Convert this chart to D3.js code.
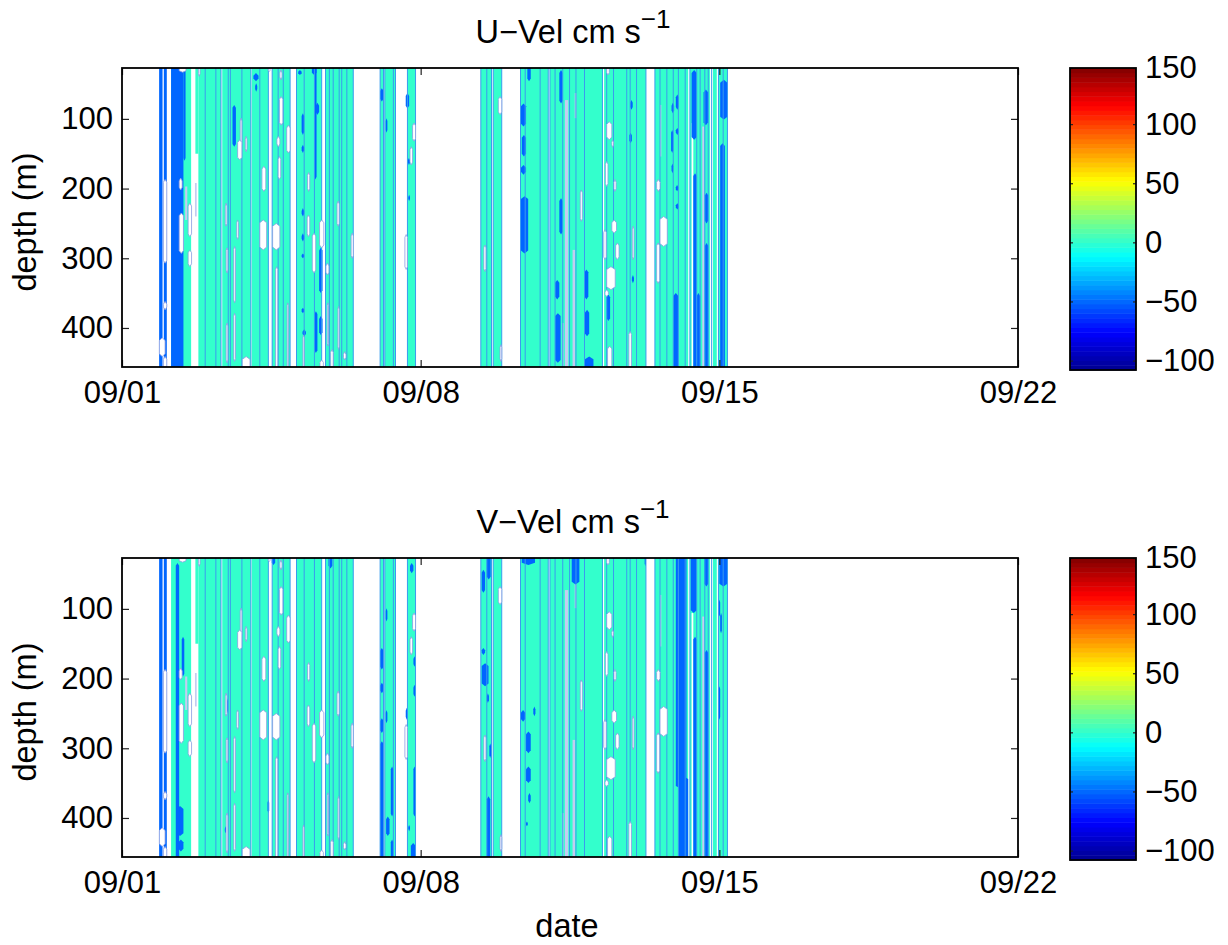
<!DOCTYPE html>
<html><head><meta charset="utf-8">
<script src="https://cdn.jsdelivr.net/npm/d3@7"></script>
<style>html,body{margin:0;padding:0;background:#fff}svg{display:block}text{font-family:"Liberation Sans",Arial,sans-serif;fill:#000}</style>
</head><body><svg id="c" width="1228" height="945"></svg>
<script>
// time in days since 09/01; depth in metres
const xTickDays=[0,7,14,21];
const xTickLabels=["09/01","09/08","09/15","09/22"];
const depthTicks=[100,200,300,400];
const cbarTicks=[150,100,50,0,-50,-100];
const titles=["U\u2212Vel cm s","V\u2212Vel cm s"];
const fillBands=[[1.15,1.62],[1.79,2.32],[2.35,3.02],[3.04,3.43],[3.52,3.94],[4.09,4.68],[4.77,5.42],[6.05,6.13],[6.16,6.41],[6.69,6.88],[8.41,8.66],[8.70,8.90],[9.34,9.99],[10.03,11.26],[11.30,12.28],[12.49,14.19]];
const partialBands=[[1.72,1.79,27,150]];
const blueBands=[[0.87,0.95],[0.98,1.05]];
const contourLines=[1.95,2.20,2.32,2.49,2.54,2.81,3.02,3.23,3.43,3.52,3.66,3.78,3.94,4.09,4.27,4.51,4.68,4.77,4.86,4.95,5.09,5.15,5.27,5.42,6.05,6.13,6.16,6.36,6.41,6.69,6.88,8.41,8.55,8.66,8.70,8.90,9.34,9.45,9.80,9.99,10.03,10.15,10.33,10.49,10.64,10.84,11.26,11.36,11.52,11.83,11.91,12.06,12.28,12.49,12.61,12.77,12.92,13.04,13.20,13.31,13.47,13.55,13.66,13.74,13.82,13.98,14.09,14.19];
const strips=[[10.38,10.46,73,456],[10.56,10.62,288,456],[10.61,10.65,63,99],[12.61,12.64,80,154],[13.60,13.65,111,456],[10.31,10.35,393,456],[1.48,1.53,197,245],[1.71,1.75,192,240]];
const gapStrips=[[13.35,13.39,106,456],[13.78,13.85,27,456],[13.94,13.98,27,456],[13.27,13.31,27,456]];
const holes=[[.97,1.05,187,307],[.97,1.05,362,374],[.875,1.01,414,441],[.97,1.05,441,456],[1.34,1.41,185,202],[1.34,1.44,235,293],[1.34,1.5,27,33],[1.55,1.63,221,269],[1.55,1.63,288,312],[2.69,2.73,245,273],[2.62,2.66,283,364],[2.62,2.66,379,448],[2.42,2.46,221,254],[2.44,2.48,285,321],[2.44,2.48,393,450],[2.77,2.81,99,140],[2.71,2.81,130,159],[2.89,2.93,125,147],[2.82,3.0,441,456],[3.28,3.37,168,204],[3.23,3.39,245,288],[3.53,3.70,250,288],[3.66,3.72,154,187],[3.69,3.77,68,109],[3.63,3.70,125,140],[3.86,3.94,109,149],[3.43,3.47,27,32],[3.70,3.75,30,44],[4.35,4.40,177,204],[4.34,4.40,238,269],[4.46,4.54,264,321],[4.63,4.73,245,285],[5.04,5.09,218,254],[5.37,5.42,264,300],[4.78,4.85,307,324],[4.81,4.84,364,426],[5.06,5.09,369,431],[4.89,4.95,431,456],[5.19,5.25,434,446],[4.64,4.72,446,456],[3.87,3.90,364,456],[3.60,3.65,312,456],[4.24,4.27,410,456],[1.79,1.83,27,39],[6.81,6.88,106,132],[6.75,6.81,140,166],[6.63,6.69,266,316],[8.48,8.53,281,319],[8.82,8.90,68,94],[8.86,8.90,424,448],[11.36,11.48,104,130],[11.48,11.52,130,141],[11.33,11.39,161,197],[11.53,11.58,187,204],[10.74,10.79,202,247],[11.29,11.35,259,302],[11.48,11.59,245,264],[11.57,11.65,278,302],[11.96,12.0,254,302],[11.36,11.56,312,345],[11.32,11.40,345,355],[11.88,11.94,405,456],[12.53,12.61,187,204],[12.61,12.78,240,283],[12.53,12.60,278,336],[11.38,11.48,426,456],[11.36,11.42,27,37]];
const uPatches=[[1.15,1.44,27,456],[1.44,1.49,27,160],[3.08,3.20,34,46],[3.12,3.17,49,61],[2.59,2.67,80,140],[4.21,4.27,92,123],[4.21,4.27,137,149],[4.51,4.56,27,187],[4.54,4.62,77,94],[4.62,4.70,285,350],[4.51,4.58,376,436],[4.62,4.70,383,410],[4.23,4.31,402,412],[6.05,6.13,56,75],[6.18,6.22,99,120],[6.65,6.73,63,85],[6.70,6.75,156,166],[6.71,6.75,209,218],[4.21,4.27,228,240],[4.21,4.27,264,276],[4.21,4.27,293,300],[4.21,4.27,371,379],[4.13,4.21,30,37],[4.45,4.56,27,37],[9.35,9.47,78,111],[9.37,9.47,123,154],[9.35,9.47,166,180],[9.35,9.52,211,293],[9.50,9.58,27,46],[10.15,10.25,331,359],[10.15,10.28,379,450],[10.25,10.33,30,78],[10.25,10.33,214,266],[10.84,10.93,316,359],[10.85,10.95,374,412],[10.85,11.05,441,456],[12.88,12.94,77,92],[12.98,13.05,65,87],[12.87,12.92,116,149],[12.98,13.05,113,123],[12.88,12.92,164,178],[12.98,13.04,195,204],[12.98,13.05,221,230],[11.36,11.44,352,390],[11.91,11.97,73,87],[11.89,11.95,120,135],[11.95,12.0,324,336],[12.92,13.04,350,456],[13.35,13.47,30,130],[13.63,13.74,58,109],[13.39,13.47,178,456],[13.66,13.74,206,250],[13.47,13.55,350,456],[13.66,13.74,278,456],[14.02,14.19,44,101],[14.02,14.13,135,456]];
const vPatches=[[1.26,1.34,34,456],[1.40,1.46,140,197],[1.28,1.44,383,426],[1.32,1.44,431,448],[2.44,2.48,228,250],[2.41,2.45,412,422],[3.41,3.45,374,393],[3.51,3.59,27,37],[4.84,4.93,27,42],[6.05,6.13,156,187],[6.05,6.13,206,221],[6.05,6.13,257,278],[6.05,6.13,290,456],[6.18,6.22,99,118],[6.18,6.22,245,264],[6.30,6.36,326,398],[6.30,6.36,431,456],[6.19,6.27,398,426],[6.75,6.83,34,49],[6.83,6.88,168,183],[6.83,6.88,209,226],[6.83,6.88,326,398],[6.65,6.70,242,259],[6.71,6.75,410,419],[6.77,6.88,436,456],[8.43,8.51,44,77],[8.55,8.64,27,58],[8.43,8.59,178,211],[8.43,8.51,156,166],[8.55,8.60,221,235],[8.61,8.65,293,314],[8.55,8.63,369,456],[9.37,9.68,27,37],[9.35,9.45,245,262],[9.47,9.58,276,307],[9.47,9.58,326,350],[9.52,9.58,364,379],[9.47,9.51,405,412],[9.64,9.69,240,254],[10.54,10.72,27,65],[12.98,13.23,27,358],[13.04,13.27,340,456],[13.33,13.47,27,106],[13.39,13.47,140,456],[13.65,13.74,27,68],[13.66,13.74,159,456],[13.98,14.02,87,111],[13.98,14.02,211,259],[14.0,14.19,27,68],[12.25,12.28,27,39],[14.02,14.06,106,135]];
const jetStops=["#00008f","#0000ff","#00ffff","#ffff00","#ff0000","#800000"];
const jetPos=[0,1/8,3/8,5/8,7/8,1];
const colorSteps=d3.range(0,64);

const CYAN="#33ffcc",BLUE="#0066ff",LINE="#3a9bee",STRIP="#c3cdf0",EDGE="#8c9de2",FS=32.5,TS=31;
const svg=d3.select("#c");
const x=d3.scaleLinear().domain([0,21]).range([122,1018]);
const depthDomain=[27,456];
const jet=d3.scaleLinear().domain(jetPos).range(jetStops).interpolate(d3.interpolateRgb);
const shape=(d,y,pt)=>{ // rectangle in data units with tapered ends
  const [a,b,t,u]=d,m=(a+b)/2,k=Math.min(pt,(u-t)/3);
  const open=t<=27,openB=u>=456;
  const p=[[a,t+(open?0:k)],...(open?[[b,t]]:[[m,t],[b,t+k]]),[b,u-(openB?0:k)],...(openB?[[a,u]]:[[m,u],[a,u-k]])];
  return d3.line().x(q=>x(q[0])).y(q=>y(q[1]))(p)+"Z";
};
function panel(i,top,patches){
  const H=299,y=d3.scaleLinear().domain(depthDomain).range([top,top+H]);
  const g=svg.append("g");
  const id="cp"+i;
  svg.append("clipPath").attr("id",id).append("rect").attr("x",122).attr("y",top).attr("width",896).attr("height",H);
  const p=g.append("g").attr("clip-path",`url(#${id})`);
  p.selectAll(".b").data(fillBands).join("rect").attr("x",d=>x(d[0])).attr("width",d=>x(d[1])-x(d[0])).attr("y",top).attr("height",H).attr("fill",CYAN);
  p.selectAll(".pb").data(partialBands).join("rect").attr("x",d=>x(d[0])).attr("width",d=>x(d[1])-x(d[0])).attr("y",d=>y(d[2])).attr("height",d=>y(d[3])-y(d[2])).attr("fill",CYAN);
  p.selectAll(".bb").data(blueBands).join("rect").attr("x",d=>x(d[0])).attr("width",d=>x(d[1])-x(d[0])).attr("y",top).attr("height",H).attr("fill",BLUE);
  p.selectAll(".s").data(strips).join("rect").attr("x",d=>x(d[0])).attr("width",d=>x(d[1])-x(d[0])).attr("y",d=>y(d[2])).attr("height",d=>y(d[3])-y(d[2])).attr("fill",STRIP);
  p.selectAll(".g").data(gapStrips).join("rect").attr("x",d=>x(d[0])).attr("width",d=>x(d[1])-x(d[0])).attr("y",d=>y(d[2])).attr("height",d=>y(d[3])-y(d[2])).attr("fill","#fff");
  p.selectAll(".p").data(patches).join("path").attr("d",d=>shape(d,y,4)).attr("fill",BLUE);
  p.selectAll(".l").data(contourLines).join("line").attr("x1",d=>x(d)).attr("x2",d=>x(d)).attr("y1",top).attr("y2",top+H).attr("stroke",LINE).attr("stroke-width",1);
  p.selectAll(".h").data(holes).join("path").attr("d",d=>shape(d,y,4)).attr("fill","#fff").attr("stroke",EDGE).attr("stroke-width",.8);

  const ax=(gen,tx,ty)=>{const a=g.append("g").attr("transform",`translate(${tx},${ty})`).call(gen);
    a.select(".domain").remove();a.selectAll("line").attr("stroke","#222").attr("stroke-width",1.2);a.selectAll("text").attr("font-size",TS).attr("font-family",'"Liberation Sans",Arial,sans-serif');return a;};
  const fmt=d=>xTickLabels[xTickDays.indexOf(d)];
  ax(d3.axisBottom(x).tickValues(xTickDays).tickFormat(fmt).tickSize(-7).tickPadding(14),0,top+H);
  ax(d3.axisTop(x).tickValues(xTickDays).tickFormat("").tickSize(-7),0,top);
  ax(d3.axisLeft(y).tickValues(depthTicks).tickSize(-7).tickPadding(9),122,0);
  ax(d3.axisRight(y).tickValues(depthTicks).tickFormat("").tickSize(-7),1018,0);
  g.append("rect").attr("x",122).attr("y",top).attr("width",896).attr("height",H).attr("fill","none").attr("stroke","#000").attr("stroke-width",1.8);
  g.append("text").attr("transform",`translate(36,${y(248)}) rotate(-90)`).attr("text-anchor","middle").attr("font-size",FS).text("depth (m)");
  const t=g.append("text").attr("x",573).attr("y",top-25).attr("text-anchor","middle").attr("font-size",FS);
  t.append("tspan").text(titles[i]);
  t.append("tspan").attr("dy",-15).attr("font-size",FS*.8).text("\u22121");
  // colour bar
  const cT=top,cH=302,cX=1070,cW=66;
  const cb=d3.scaleLinear().domain([-108,147.5]).range([cT+cH,cT]).clamp(true);
  const v=d3.scaleLinear().domain([0,64]).range([-108,147.5]);
  g.selectAll(".c").data(colorSteps).join("rect").attr("x",cX).attr("width",cW).attr("y",d=>cb(v(d+1))).attr("height",d=>cb(v(d))-cb(v(d+1))+.5).attr("fill",d=>jet((d+.5)/64));
  ax(d3.axisRight(cb).tickValues(cbarTicks).tickFormat(d=>d<0?"\u2212"+(-d):d).tickSize(-3).tickPadding(9),cX+cW,0);
  ax(d3.axisLeft(cb).tickValues(cbarTicks).tickFormat("").tickSize(-3),cX,0);
  g.append("rect").attr("x",cX).attr("y",cT).attr("width",cW).attr("height",cH).attr("fill","none").attr("stroke","#000").attr("stroke-width",1.8);
}
panel(0,68,uPatches);
panel(1,558,vPatches);
svg.append("text").attr("x",x(10.5)-3).attr("y",937).attr("text-anchor","middle").attr("font-size",FS).text("date");
</script></body></html>
